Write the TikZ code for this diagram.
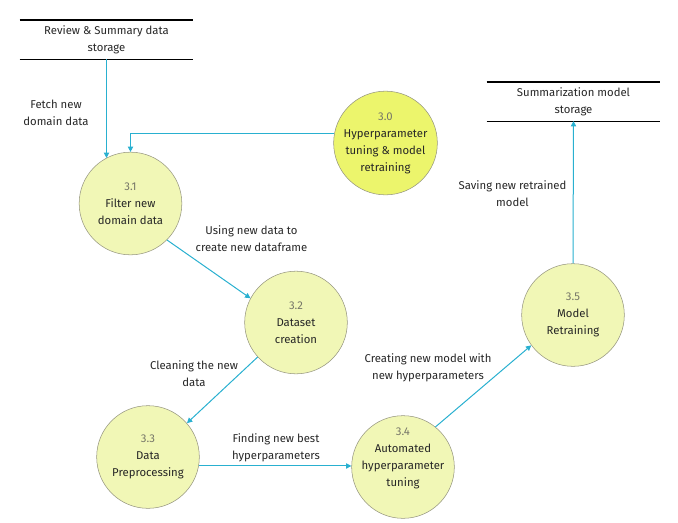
\documentclass[tikz,border=0pt]{standalone}
\usepackage{fontspec}
\setmainfont{Fira Sans}
\usetikzlibrary{arrows.meta, positioning, calc}
\definecolor{flowcyan}{RGB}{41, 176, 208}
\definecolor{procfill}{RGB}{241, 247, 182}
\definecolor{procmain}{RGB}{236, 245, 108}
\definecolor{procedge}{RGB}{150, 150, 128}
\definecolor{numgray}{RGB}{118, 118, 104}

\begin{document}
\begin{tikzpicture}[x=0.75pt, y=-0.75pt,
        every node/.style={font=\fontsize{8.5}{12.75}\selectfont, text=black!85},
        proc/.style={circle, draw=procedge, fill=procfill, minimum size=77pt, inner sep=0pt, align=center},
        store/.style={minimum width=130pt, minimum height=29pt, inner sep=0pt, align=center},
        flow/.style={flowcyan, line width=0.75pt, -{Triangle[length=4pt, width=4pt]}},
        lbl/.style={align=center}
      ]
        \useasboundingbox (0,0) rectangle (678,522);
        % data stores
        \node[store] (s1) at (106.5,39.5) {Review \& Summary data\\storage};
        \node[store] (s2) at (573.5,101.5) {Summarization model\\storage};
        \foreach \s in {s1,s2} {
          \draw[line width=0.9pt] (\s.north west) -- (\s.north east);
          \draw[line width=0.9pt] (\s.south west) -- (\s.south east);
        }
        % processes
        \node[proc, fill=procmain] (p0) at (385.5,143) {{\color{numgray}3.0}\\Hyperparameter\\tuning \& model\\retraining};
        \foreach \n/\x/\y/\txt in {1/130.5/203.5/{Filter new\\domain data},
                                   2/296/322.5/{Dataset\\creation},
                                   3/148/457/{Data\\Preprocessing},
                                   5/573/315/{Model\\Retraining}} {
          \node[proc] (p\n) at (\x,\y) {{\color{numgray}3.\n}\\\txt};
        }
        \node[proc, label={[align=center, yshift=6.5pt]center:{\color{numgray}3.4}\\Automated\\hyperparameter\\tuning}] (p4) at (403,467) {};
        % flows
        \draw[flow] (s1.south) -- (s1.south |- p1.118);
        \draw[flow] (p0.169) -| (p1.north);
        \draw[flow] (p1.-45) -- (p2.152);
        \draw[flow] (p2.-138) -- (p3.41);
        \draw[flow] (p3.-10) -- (p3.-10 -| p4.west);
        \draw[flow] (p4.51) -- (p5.-144);
        \draw[flow] (p5.north) -- (s2.south);
        % flow labels
        \node[lbl] (l1) at (56,112.5) {Fetch new\\domain data};
        \node[lbl] (l2) at (251.5,238.5) {Using new data to\\create new dataframe};
        \node[lbl] (l3) at (194,373.5) {Cleaning the new\\data};
        \node[lbl] (l4) at (276,447.5) {Finding new best\\hyperparameters};
        \node[lbl] (l5) at (428,367.5) {Creating new model with\\new hyperparameters};
        \node[lbl] (l6) at (512.5,193.5) {Saving new retrained\\model};
      \end{tikzpicture}
\end{document}
